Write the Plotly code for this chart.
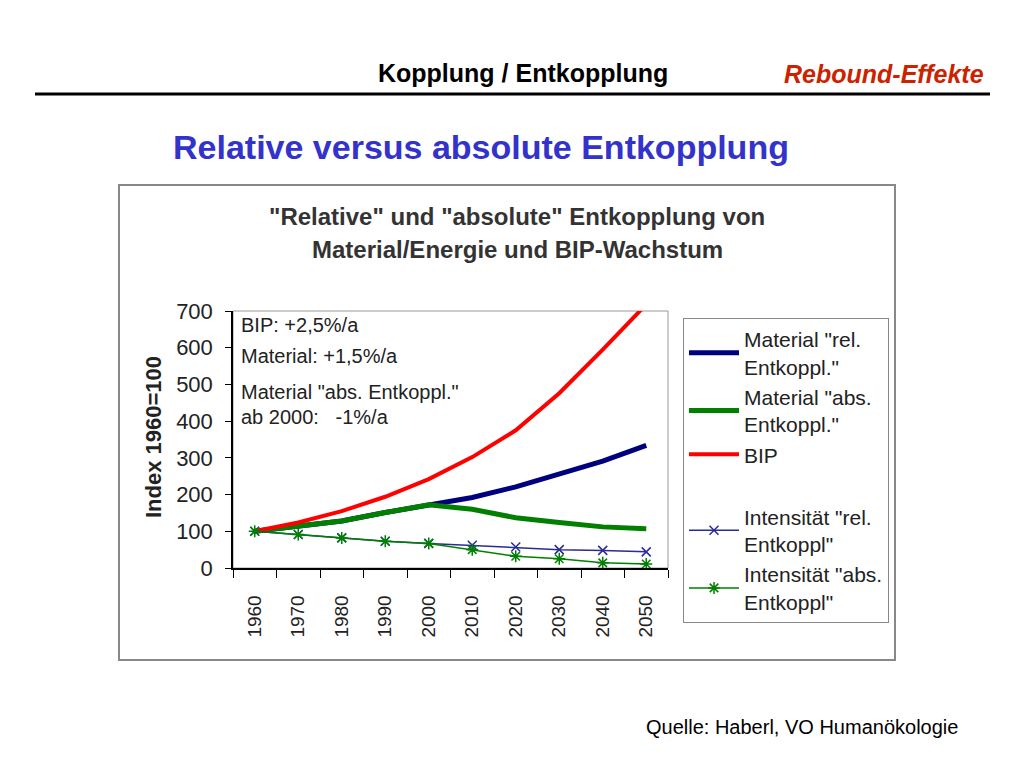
import plotly.graph_objects as go

years = ["1960", "1970", "1980", "1990", "2000", "2010", "2020", "2030", "2040", "2050"]
material_rel = [100, 114, 128, 151, 172, 192, 221, 256, 291, 334]
material_abs = [100, 114, 128, 151, 172, 160, 137, 124, 112, 107]
bip = [100, 124, 155, 194, 242, 302, 375, 476, 595, 718]
intens_rel = [100, 91, 82, 73, 67, 62, 57, 50, 48, 44]
intens_abs = [100, 91, 82, 73, 67, 50, 32, 25, 14, 11]
y_ticks = [0, 100, 200, 300, 400, 500, 600, 700]

W, H = 1024, 768
def px(x): return x / W
def py(y): return 1 - y / H

FONT = "Liberation Sans, Arial, sans-serif"

fig = go.Figure()
fig.add_trace(go.Scatter(x=years, y=material_rel, mode="lines", name='Material "rel.<br>Entkoppl."',
                         line=dict(color="#00007f", width=5), legendgroup="a"))
fig.add_trace(go.Scatter(x=years, y=material_abs, mode="lines", name='Material "abs.<br>Entkoppl."',
                         line=dict(color="#007f00", width=5), legendgroup="a"))
fig.add_trace(go.Scatter(x=years, y=bip, mode="lines", name="BIP",
                         line=dict(color="#ff0000", width=4), legendgroup="a"))
fig.add_trace(go.Scatter(x=years, y=intens_rel, mode="lines+markers", name='Intensität "rel.<br>Entkoppl"',
                         line=dict(color="#2a2a99", width=1.5),
                         marker=dict(symbol="x-thin-open", size=9, line=dict(color="#2a2a99", width=1.5)),
                         legendgroup="b"))
fig.add_trace(go.Scatter(x=years, y=intens_abs, mode="lines+markers", name='Intensität "abs.<br>Entkoppl"',
                         line=dict(color="#008000", width=1.5),
                         marker=dict(symbol="asterisk-open", size=10, line=dict(color="#008000", width=1.5)),
                         legendgroup="b"))

shapes = [
    dict(type="line", xref="paper", yref="paper", x0=px(35), x1=px(990), y0=py(94), y1=py(94),
         line=dict(color="black", width=3)),
    dict(type="rect", xref="paper", yref="paper", x0=px(119), x1=px(895), y0=py(660), y1=py(185),
         line=dict(color="#888888", width=2), layer="below"),
    dict(type="rect", xref="paper", yref="paper", x0=px(233), x1=px(668), y0=py(568), y1=py(311),
         line=dict(color="#999999", width=1), layer="below"),
]

def ann(text, x, y, size, color="#222222", xanchor="center", **kw):
    return dict(text=text, x=px(x), y=py(y), xref="paper", yref="paper", xanchor=xanchor,
                yanchor="middle", showarrow=False, font=dict(size=size, color=color, family=FONT), **kw)

annotations = [
    ann("<b>Kopplung / Entkopplung</b>", 523, 73, 25, "black"),
    ann("<b><i>Rebound-Effekte</i></b>", 986, 74, 25, "#cc2200", xanchor="right"),
    ann("<b>Relative versus absolute Entkopplung</b>", 481, 147, 34, "#3333cc"),
    ann('<b>"Relative" und "absolute" Entkopplung von</b>', 517, 217, 24, "#333333"),
    ann("<b>Material/Energie und BIP-Wachstum</b>", 517, 250, 24, "#333333"),
    ann("BIP: +2,5%/a", 239, 325, 20, xanchor="left"),
    ann("Material: +1,5%/a", 239, 356, 20, xanchor="left"),
    ann('Material "abs. Entkoppl."', 239, 392, 20, xanchor="left"),
    ann("ab 2000:   -1%/a", 239, 417, 20, xanchor="left"),
    ann("<b>Index 1960=100</b>", 153, 437, 22, textangle=-90),
    ann("Quelle: Haberl, VO Humanökologie", 960, 727, 20, "black", xanchor="right"),
]

fig.update_layout(
    width=W, height=H,
    margin=dict(l=0, r=0, t=0, b=0, autoexpand=False),
    paper_bgcolor="white", plot_bgcolor="white",
    font=dict(family=FONT, color="#222222"),
    shapes=shapes, annotations=annotations,
    xaxis=dict(domain=[px(233), px(668)], type="category", range=[-0.5, 9.5],
               showline=True, linecolor="black", linewidth=1.5,
               ticks="outside", tickson="boundaries", ticklen=8, tickcolor="black",
               tickangle=-90, tickfont=dict(size=19, color="#222222"), showgrid=False,
               ticklabelstandoff=18),
    yaxis=dict(domain=[py(568), py(311)], range=[0, 700], tickvals=y_ticks,
               showline=True, linecolor="black", linewidth=1.5,
               ticks="outside", ticklen=6, tickcolor="black",
               tickfont=dict(size=22, color="#222222"), showgrid=False, zeroline=False,
               ticklabelstandoff=8),
    showlegend=True,
    legend=dict(x=px(683), y=py(318), xanchor="left", yanchor="top",
                bordercolor="#888888", borderwidth=1, bgcolor="white",
                font=dict(size=21, color="#222222", family=FONT),
                tracegroupgap=32, itemwidth=50, traceorder="grouped"),
)

fig.write_html("out.html")
